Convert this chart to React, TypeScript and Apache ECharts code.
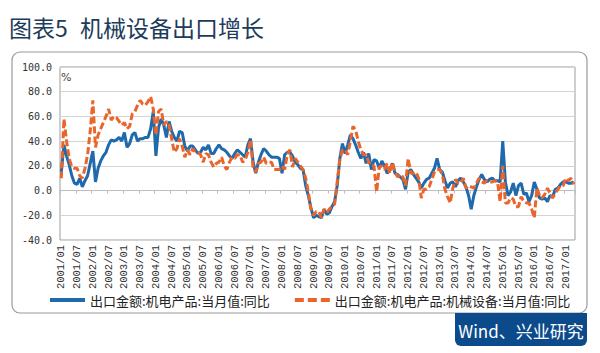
import React, { useEffect, useRef } from "react";
import * as echarts from "echarts";

// Monthly categories 2001/01 .. 2017/04
const startYear = 2001;
const monthCount = 196;
const months: string[] = [];
for (let i = 0; i < monthCount; i++) {
  const y = startYear + Math.floor(i / 12);
  const m = (i % 12) + 1;
  months.push(`${y}/${m < 10 ? "0" + m : m}`);
}

const seriesNames = ["出口金额:机电产品:当月值:同比", "出口金额:机电产品:机械设备:当月值:同比"];

// 出口金额:机电产品:当月值:同比 (%)
const electroMech: number[] = [
  15, 37, 28, 21, 12, 6, 5, 10, 3, 8, 12, 22,
  32, 7, 18, 24, 28, 31, 37, 41, 40, 41, 43, 40,
  47, 35, 38, 45, 47, 40, 42, 42, 43, 43, 50, 64,
  28, 51, 58, 53, 43, 56, 48, 43, 40, 48, 47, 36,
  32, 36, 36, 33, 30, 31, 35, 33, 37, 30, 30, 34,
  37, 34, 33, 31, 28, 26, 30, 33, 31, 29, 27, 37,
  42, 23, 14, 23, 29, 34, 32, 29, 27, 27, 27, 26,
  14, 29, 31, 31, 28, 23, 21, 18, 17, 4, -4, -14,
  -22, -20, -21, -22, -15, -19, -18, -13, -9, 4, 26, 38,
  30, 37, 45, 42, 37, 31, 26, 31, 22, 30, 17, 25,
  24, 18, 24, 20, 14, 17, 22, 14, 13, 11, 9, 1,
  15, 17, 13, 10, 7, 2, 6, 9, 10, 14, 18, 26,
  17, 15, 8, 2, 6, 7, 3, 8, 10, 7, 3, -4,
  -15, -4, 3, 9, 13, 9, 7, 9, 10, 8, 8, 7,
  40, 7, -4, -1, 6, -4, 4, 6, -3, -2, -9, -4,
  7, 1, -6, -7, -6, -9, -4, -5, 1, 2, 5, 7,
  7, 6, 6, 7,
];

// 出口金额:机电产品:机械设备:当月值:同比 (%)
const machinery: number[] = [
  10, 58, 40, 26, 19, 18, 18, 12, 10, 18, 29, 48,
  73, 35, 45, 50, 55, 60, 66, 57, 60, 59, 56, 53,
  55, 50, 52, 62, 64, 69, 73, 70, 69, 72, 76, 66,
  45, 64, 66, 53, 56, 53, 42, 31, 34, 42, 36, 27,
  33, 29, 34, 31, 31, 29, 23, 30, 29, 23, 19, 22,
  23, 27, 20, 17, 23, 27, 26, 29, 29, 23, 25, 31,
  41, 18, 15, 22, 23, 27, 22, 23, 23, 17, 17, 17,
  20, 17, 29, 33, 19, 26, 23, 20, 17, 10, -1, -15,
  -20, -17, -17, -22, -15, -18, -15, -13, -11, 7, 25, 33,
  33, 29, 40, 52, 49, 40, 33, 29, 29, 23, 20, 20,
  -1, 19, 20, 17, 22, 14, 23, 15, 11, 13, 11, 4,
  26, 14, 14, 15, 10, -6, 1, 1, 3, 9, 15, 17,
  17, 13, 1, -5, -10, 2, 9, 6, 6, 10, 2, 4,
  3, 2, 6, 10, 7, 6, 8, 7, 7, 8, 7, -9,
  20, -10, -10, -6, -7, -13, -13, -5, -9, -10, -10, -15,
  -22, 2, -4, -6, -3, 2, -2, -6, -2, 1, 4, 4,
  10, 8, 10, 5,
];

const yMin = -40;
const yMax = 100;
const yStep = 20;

const BLUE = "#1f69ad";
const ORANGE = "#ea6529";
const CJK = "'Noto Sans CJK SC', 'Noto Sans', sans-serif";

export default function App() {
  const ref = useRef<HTMLDivElement>(null);

  useEffect(() => {
    if (!ref.current) return;
    const chart = echarts.init(ref.current, undefined, { renderer: "svg" });
    chart.setOption({
      animation: false,
      backgroundColor: "#ffffff",
      grid: {
        left: 60,
        right: 25,
        top: 67,
        bottom: 113,
        show: true,
        borderColor: "#9c9c9c",
        borderWidth: 1,
      },
      legend: {
        left: 50,
        top: 292,
        padding: 0,
        itemWidth: 35,
        itemHeight: 4,
        itemGap: 25,
        data: [
          { name: seriesNames[0], icon: "rect", itemStyle: { color: BLUE, borderWidth: 0 } },
          {
            name: seriesNames[1],
            icon: "path://M0,0h9v4h-9z M13,0h9v4h-9z M26,0h9v4h-9z",
            itemStyle: { color: ORANGE, borderWidth: 0 },
          },
        ],
        textStyle: { fontFamily: CJK, fontSize: 13, color: "#222", lineHeight: 16 },
      },
      xAxis: [
        {
          type: "category",
          data: months,
          boundaryGap: true,
          axisLine: { show: false, onZero: false },
          axisTick: { show: false },
          axisLabel: {
            interval: 5,
            rotate: 90,
            margin: 5,
            fontFamily: "'Liberation Mono', monospace",
            fontSize: 10.5,
            color: "#333",
          },
          splitLine: { show: false },
        },
        {
          type: "category",
          data: months,
          boundaryGap: true,
          position: "bottom",
          axisLine: { show: true, onZero: true, lineStyle: { color: "#bdbdbd", width: 1 } },
          axisTick: { show: true, interval: 5, length: 3, lineStyle: { color: "#bdbdbd" } },
          axisLabel: { show: false },
          splitLine: { show: false },
        },
      ],
      yAxis: {
        type: "value",
        min: yMin,
        max: yMax,
        interval: yStep,
        axisLine: { show: false },
        axisTick: { show: false },
        axisLabel: {
          margin: 8,
          formatter: (v: number) => v.toFixed(1),
          fontFamily: "'DejaVu Sans Mono', monospace",
          fontSize: 10,
          color: "#333",
        },
        splitLine: { lineStyle: { color: "#d4d4d4", width: 1 } },
      },
      series: [
        {
          name: seriesNames[0],
          type: "line",
          xAxisIndex: 0,
          data: electroMech,
          symbol: "none",
          lineStyle: { color: BLUE, width: 3 },
          itemStyle: { color: BLUE },
        },
        {
          name: seriesNames[1],
          type: "line",
          xAxisIndex: 0,
          data: machinery,
          symbol: "none",
          lineStyle: { color: ORANGE, width: 3, type: [7, 3] },
          itemStyle: { color: ORANGE },
        },
      ],
      graphic: [
        {
          type: "rect",
          shape: { x: 12, y: 52, width: 575, height: 261, r: 8 },
          style: { fill: "none", stroke: "#9a9a9a", lineWidth: 1.2 },
          z: -1,
        },
        {
          type: "text",
          x: 9,
          y: 27,
          style: {
            text: "图表5",
            fontFamily: CJK,
            fontSize: 23,
            fill: "#1d3b5b",
            verticalAlign: "middle",
          },
        },
        {
          type: "text",
          x: 80,
          y: 27,
          style: {
            text: "机械设备出口增长",
            fontFamily: CJK,
            fontSize: 23,
            fill: "#1d3b5b",
            verticalAlign: "middle",
          },
        },
        {
          type: "text",
          x: 61,
          y: 77,
          style: {
            text: "%",
            fontFamily: "'DejaVu Sans', sans-serif",
            fontSize: 11,
            fill: "#444",
            verticalAlign: "middle",
          },
        },
        {
          type: "rect",
          shape: { x: 455, y: 313, width: 132, height: 33, r: [0, 0, 6, 6] },
          style: { fill: "#0b4a8b" },
        },
        {
          type: "text",
          x: 521,
          y: 330,
          style: {
            text: "Wind、兴业研究",
            fontFamily: CJK,
            fontSize: 17,
            fill: "#ffffff",
            align: "center",
            verticalAlign: "middle",
          },
        },
      ],
    });
    return () => chart.dispose();
  }, []);

  return <div ref={ref} style={{ width: 600, height: 353, position: "absolute", left: 0, top: 0 }} />;
}
